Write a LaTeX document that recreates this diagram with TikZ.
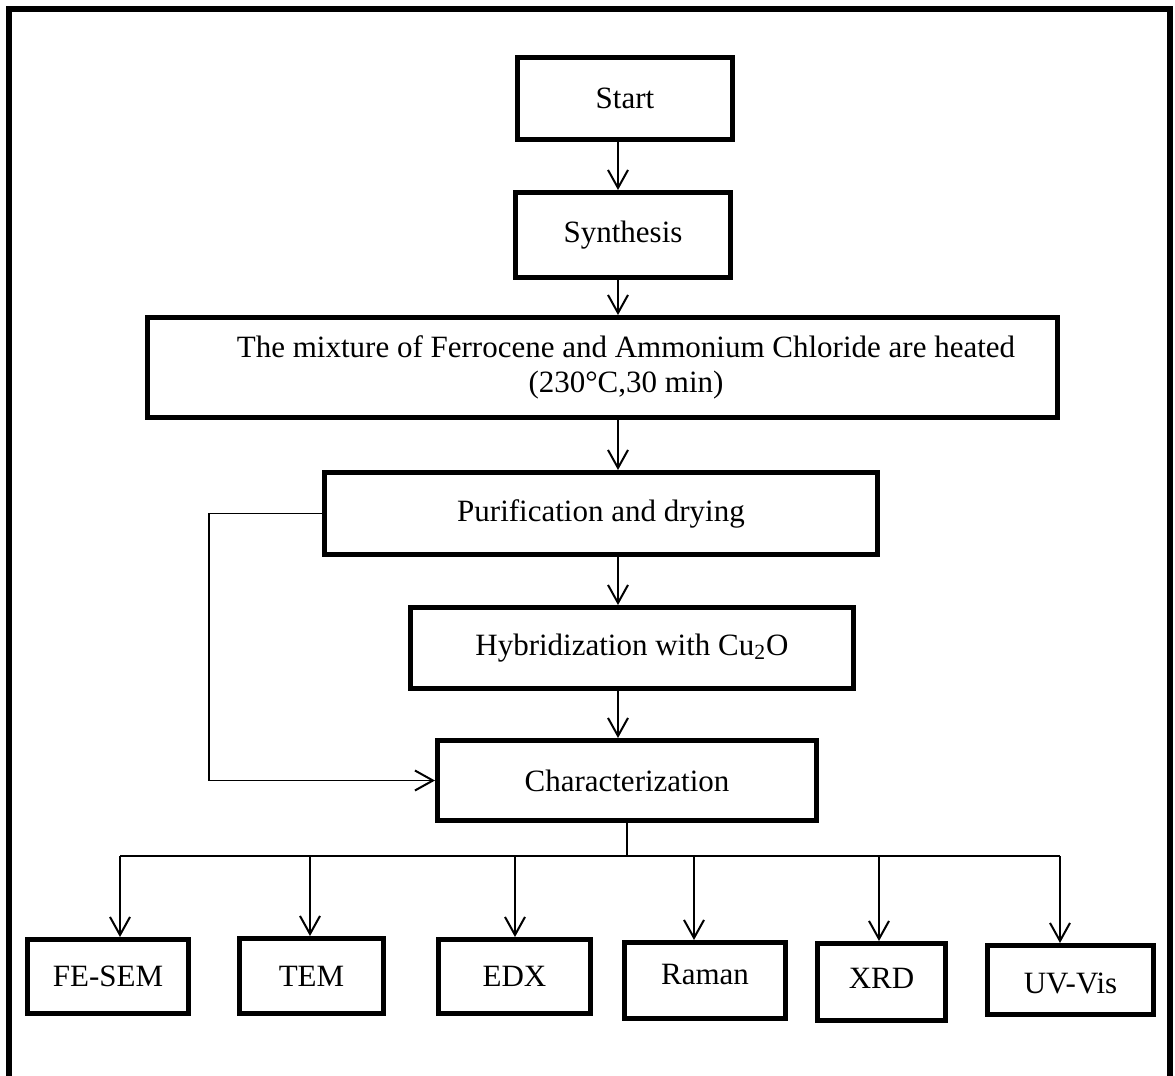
\documentclass[tikz,border=0pt]{standalone}
\usepackage{fontspec}
\setmainfont{Liberation Serif}
\usetikzlibrary{arrows.meta}
\begin{document}
\begin{tikzpicture}[x=0.5pt,y=-0.5pt,
  box/.style={draw, line width=2.5pt, inner sep=0pt, font=\fontsize{15.5}{17.5}\selectfont, align=center},
  conn/.style={line width=1pt},
  arr/.style={conn, -{Straight Barb[length=9pt,width=10pt,line width=1pt]}},
  frame/.style={line width=3pt}
]
\useasboundingbox (0,0) rectangle (1175,1076);
\fill[white] (0,0) rectangle (1175,1076);
\draw[frame] (9,1085) -- (9,9) -- (1170,9) -- (1170,1085);

% main chain
\node[box, minimum width=107.5pt, minimum height=41pt] (start) at (625,98.5) {Start};
\node[box, minimum width=107.5pt, minimum height=42.5pt] (synth) at (623,235) {Synthesis};
\node[box, minimum width=455pt, minimum height=50pt] (mix) at (602.5,367.5)
  {\hspace*{23.5pt}\begin{tabular}{@{}c@{}}The mixture of Ferrocene and Ammonium Chloride are heated\\(230°C,30 min)\end{tabular}};
\node[box, minimum width=276.5pt, minimum height=41pt] (purif) at (601,513.5) {Purification and drying};
\node[box, minimum width=221.5pt, minimum height=40.5pt] (hybrid) at (632,648) {Hybridization with Cu\textsubscript{2}O};
\node[box, minimum width=189.5pt, minimum height=40pt] (char) at (627,780.5) {Characterization};

% bottom row
\node[box, minimum width=80.5pt, minimum height=37pt] (fesem) at (108,976.5) {FE-SEM};
\node[box, minimum width=72pt, minimum height=37.5pt] (tem) at (311.5,976) {TEM};
\node[box, minimum width=76pt, minimum height=37pt] (edx) at (514.5,976.5) {EDX};
\node[box, minimum width=80.5pt, minimum height=38pt, text depth=6pt] (raman) at (705,980.5) {Raman};
\node[box, minimum width=64pt, minimum height=38.5pt, text depth=4pt] (xrd) at (881.5,982) {XRD};
\node[box, minimum width=83pt, minimum height=34.5pt, text height=14pt] (uvvis) at (1070.5,980) {UV-Vis};

% vertical chain connectors
\coordinate (ax) at (618,0);
\draw[arr] (start.south -| ax) -- (synth.north -| ax);
\draw[arr] (synth.south -| ax) -- (mix.north -| ax);
\draw[arr] (mix.south -| ax) -- (purif.north -| ax);
\draw[arr] (purif.south -| ax) -- (hybrid.north -| ax);
\draw[arr] (hybrid.south -| ax) -- (char.north -| ax);

% feedback
\coordinate (fbc) at (209,780.5);
\draw[arr, line width=0.9pt] (purif.west) -| (fbc) -- (char.west);

% bus
\coordinate (busL) at (120,856);
\coordinate (busR) at (1060,856);
\coordinate (d2) at (310,856);
\coordinate (d3) at (515,856);
\coordinate (d4) at (694,856);
\coordinate (d5) at (879,856);
\draw[conn] (char.south) -- (char.south |- busL);
\draw[conn] (busL) -- (busR);
\draw[arr] (busL) -- (fesem.north -| busL);
\draw[arr] (d2) -- (tem.north -| d2);
\draw[arr] (d3) -- (edx.north -| d3);
\draw[arr] (d4) -- (raman.north -| d4);
\draw[arr] (d5) -- (xrd.north -| d5);
\draw[arr] (busR) -- (uvvis.north -| busR);
\end{tikzpicture}
\end{document}
